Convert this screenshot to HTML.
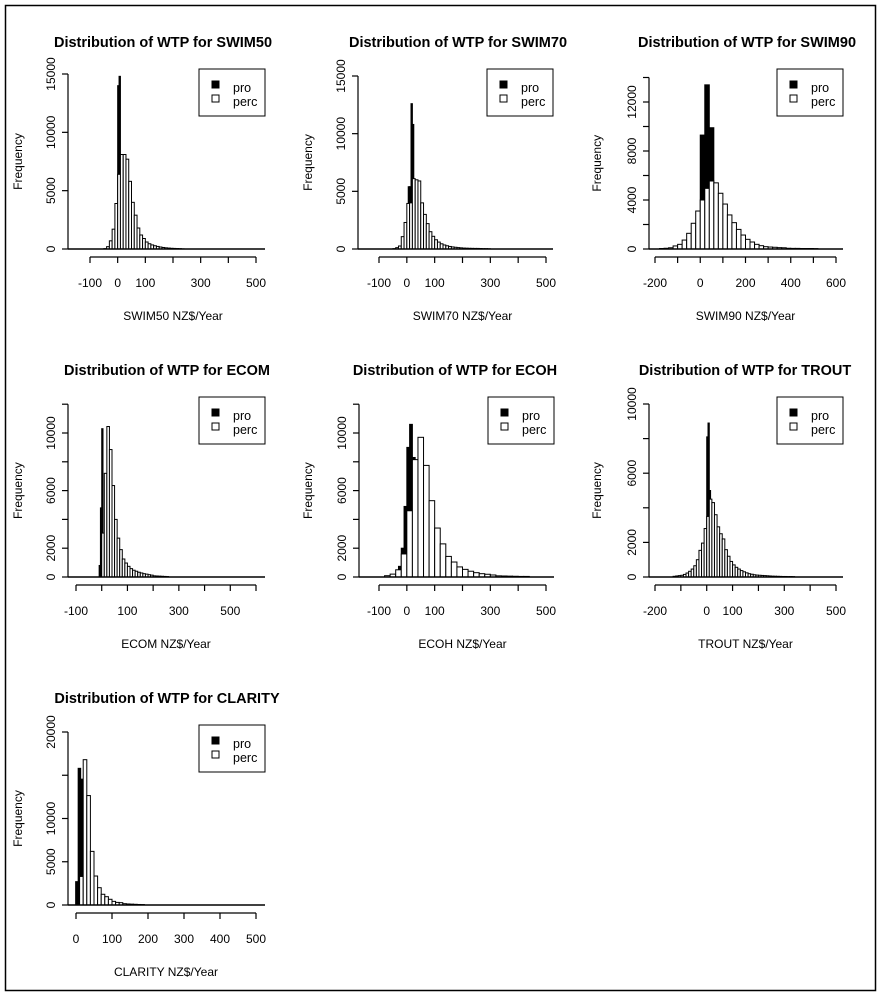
<!DOCTYPE html>
<html><head><meta charset="utf-8"><style>
body{margin:0;background:#fff}
svg{display:block;font-family:"Liberation Sans",Arial,sans-serif}
</style></head><body>
<svg id="chart" width="882" height="1000" viewBox="0 0 882 1000">
<rect x="5.5" y="5.5" width="870" height="985" fill="#fff" stroke="#000" stroke-width="1.5"/>
</svg>
<script>
// ---- data: bin start, bin width, counts ----
const swim50PercStart = -50, swim50PercWidth = 10;
const swim50PercCounts = [30,200,700,1700,3900,6400,8100,8100,7700,5800,4000,2900,1800,1200,900,600,450,350,280,220,170,130,100,80,60,50,40,30,10];
const swim50ProStart = 0, swim50ProWidth = 5;
const swim50ProCounts = [14000,14800];

const swim70PercStart = -50, swim70PercWidth = 10;
const swim70PercCounts = [30,115,260,1070,2300,3950,4000,6100,6000,5900,4000,3000,2200,1500,1100,800,600,450,350,280,220,180,150,120,100,80,70,60,55,50,50,40,30,30,20];
const swim70ProStart = 5, swim70ProWidth = 5;
const swim70ProCounts = [5400,5400,12600,10800];

const swim90PercStart = -180, swim90PercWidth = 20;
const swim90PercCounts = [40,60,100,250,380,730,1280,2100,3100,4000,4950,5550,5400,4550,3670,2780,2150,1600,1140,790,570,380,270,190,160,140,110,100,60,50,50,40,40,40,30];
const swim90ProStart = 0, swim90ProWidth = 20;
const swim90ProCounts = [9300,13400,9900];

const ecomPercStart = 0, ecomPercWidth = 10;
const ecomPercCounts = [3050,7200,10450,8850,6350,4000,2700,1900,1250,970,740,580,470,400,330,280,230,200,160,130,80,70,60,50,40,30];
const ecomProStart = -10, ecomProWidth = 5;
const ecomProCounts = [800,4800,10300,3000];

const ecohPercStart = -80, ecohPercWidth = 20;
const ecohPercCounts = [90,200,500,1600,4600,8150,9700,7750,5300,3400,2300,1430,1040,700,530,400,300,230,190,140,80,70,60,50,40,40];
const ecohProStart = -30, ecohProWidth = 10;
const ecohProCounts = [740,2000,4900,9000,10600,8300];

const troutPercStart = -130, troutPercWidth = 10;
const troutPercCounts = [40,60,80,100,150,230,330,460,650,1000,1540,1960,2800,3500,4500,4300,3600,2900,2500,2200,1580,1200,900,700,560,460,370,300,240,190,160,130,110,100,90,80,70,60,50,45,40,35,30,30,25,25,20];
const troutProStart = 0, troutProWidth = 5;
const troutProCounts = [8100,8900,5000];

const clarityPercStart = 0, clarityPercWidth = 10;
const clarityPercCounts = [50,3300,16800,12650,6200,3350,2000,1240,960,660,420,300,270,150,120,100,80,60,50];
const clarityProStart = -1, clarityProWidth = 7;
const clarityProCounts = [2700,15800,14550];

// ---- axis ticks ----
const swim50XTicks = [-100,0,100,200,300,400,500];
const swim50XLabels = ["-100","0","100","","300","","500"];
const swim50YTicks = [0,5000,10000,15000];
const swim50YLabels = ["0","5000","10000","15000"];
const swim70XTicks = [-100,0,100,200,300,400,500];
const swim70XLabels = ["-100","0","100","","300","","500"];
const swim70YTicks = [0,5000,10000,15000];
const swim70YLabels = ["0","5000","10000","15000"];
const swim90XTicks = [-200,-100,0,100,200,300,400,500,600];
const swim90XLabels = ["-200","","0","","200","","400","","600"];
const swim90YTicks = [0,2000,4000,6000,8000,10000,12000,14000];
const swim90YLabels = ["0","","4000","","8000","","12000",""];
const ecomXTicks = [-100,0,100,200,300,400,500,600];
const ecomXLabels = ["-100","","100","","300","","500",""];
const ecomYTicks = [0,2000,4000,6000,8000,10000,12000];
const ecomYLabels = ["0","2000","","6000","","10000",""];
const ecohXTicks = [-100,0,100,200,300,400,500];
const ecohXLabels = ["-100","0","100","","300","","500"];
const ecohYTicks = [0,2000,4000,6000,8000,10000,12000];
const ecohYLabels = ["0","2000","","6000","","10000",""];
const troutXTicks = [-200,-100,0,100,200,300,400,500];
const troutXLabels = ["-200","","0","100","","300","","500"];
const troutYTicks = [0,2000,4000,6000,8000,10000];
const troutYLabels = ["0","2000","","6000","","10000"];
const clarityXTicks = [0,100,200,300,400,500];
const clarityXLabels = ["0","100","200","300","400","500"];
const clarityYTicks = [0,5000,10000,15000,20000];
const clarityYLabels = ["0","5000","10000","","20000"];

// ---- layout (pixels) ----
const panels = [
 {id:"swim50",title:"Distribution of WTP for SWIM50",xlab:"SWIM50 NZ$/Year",ax:68,right:265,base:249,ytPx:74,ytV:15000,x0px:90,x0v:-100,x1px:256,x1v:500,row:0,cx:163,fx:18,
  ps:swim50PercStart,pw:swim50PercWidth,pc:swim50PercCounts,qs:swim50ProStart,qw:swim50ProWidth,qc:swim50ProCounts,xt:swim50XTicks,xl:swim50XLabels,yt:swim50YTicks,yl:swim50YLabels},
 {id:"swim70",title:"Distribution of WTP for SWIM70",xlab:"SWIM70 NZ$/Year",ax:358,right:553,base:249,ytPx:76,ytV:15000,x0px:379,x0v:-100,x1px:546,x1v:500,row:0,cx:458,fx:308,
  ps:swim70PercStart,pw:swim70PercWidth,pc:swim70PercCounts,qs:swim70ProStart,qw:swim70ProWidth,qc:swim70ProCounts,xt:swim70XTicks,xl:swim70XLabels,yt:swim70YTicks,yl:swim70YLabels},
 {id:"swim90",title:"Distribution of WTP for SWIM90",xlab:"SWIM90 NZ$/Year",ax:649,right:843,base:249,ytPx:102,ytV:12000,x0px:655,x0v:-200,x1px:836,x1v:600,row:0,cx:747,fx:597,
  ps:swim90PercStart,pw:swim90PercWidth,pc:swim90PercCounts,qs:swim90ProStart,qw:swim90ProWidth,qc:swim90ProCounts,xt:swim90XTicks,xl:swim90XLabels,yt:swim90YTicks,yl:swim90YLabels},
 {id:"ecom",title:"Distribution of WTP for ECOM",xlab:"ECOM NZ$/Year",ax:68,right:265,base:577,ytPx:433,ytV:10000,x0px:76,x0v:-100,x1px:256,x1v:600,row:1,cx:167,fx:18,
  ps:ecomPercStart,pw:ecomPercWidth,pc:ecomPercCounts,qs:ecomProStart,qw:ecomProWidth,qc:ecomProCounts,xt:ecomXTicks,xl:ecomXLabels,yt:ecomYTicks,yl:ecomYLabels},
 {id:"ecoh",title:"Distribution of WTP for ECOH",xlab:"ECOH NZ$/Year",ax:359,right:554,base:577,ytPx:433,ytV:10000,x0px:379,x0v:-100,x1px:546,x1v:500,row:1,cx:455,fx:308,
  ps:ecohPercStart,pw:ecohPercWidth,pc:ecohPercCounts,qs:ecohProStart,qw:ecohProWidth,qc:ecohProCounts,xt:ecohXTicks,xl:ecohXLabels,yt:ecohYTicks,yl:ecohYLabels},
 {id:"trout",title:"Distribution of WTP for TROUT",xlab:"TROUT NZ$/Year",ax:649,right:843,base:577,ytPx:404,ytV:10000,x0px:655,x0v:-200,x1px:836,x1v:500,row:1,cx:745,fx:597,
  ps:troutPercStart,pw:troutPercWidth,pc:troutPercCounts,qs:troutProStart,qw:troutProWidth,qc:troutProCounts,xt:troutXTicks,xl:troutXLabels,yt:troutYTicks,yl:troutYLabels},
 {id:"clarity",title:"Distribution of WTP for CLARITY",xlab:"CLARITY NZ$/Year",ax:68,right:265,base:905,ytPx:732,ytV:20000,x0px:76,x0v:0,x1px:256,x1v:500,row:2,cx:167,fx:18,
  ps:clarityPercStart,pw:clarityPercWidth,pc:clarityPercCounts,qs:clarityProStart,qw:clarityProWidth,qc:clarityProCounts,xt:clarityXTicks,xl:clarityXLabels,yt:clarityYTicks,yl:clarityYLabels}
];
const NS="http://www.w3.org/2000/svg";
const svg=document.getElementById("chart");
function mk(tag,attrs,parent){const e=document.createElementNS(NS,tag);for(const k in attrs)e.setAttribute(k,attrs[k]);parent.appendChild(e);return e;}
panels.forEach(p=>{
  const oy=[0,328,656][p.row];
  const g=mk("g",{},svg);
  
  
  const xs=v=>p.x0px+(v-p.x0v)*(p.x1px-p.x0px)/(p.x1v-p.x0v);
  const ys=v=>p.base-v*(p.base-p.ytPx)/p.ytV;
  // title
  const t=mk("text",{x:p.cx,y:oy+47,"text-anchor":"middle","font-size":"14.5","font-weight":"bold"},g);
  t.textContent=p.title;
  
  
  // pro bars
  p.qc.forEach((c,i)=>{
    const x0=xs(p.qs+i*p.qw),x1=xs(p.qs+(i+1)*p.qw);
    const r=mk("rect",{x:x0,y:ys(c),width:x1-x0,height:p.base-ys(c),fill:"#000",stroke:"#000","stroke-width":1},g);
    
    
  });
  // perc bars
  p.pc.forEach((c,i)=>{
    const x0=xs(p.ps+i*p.pw),x1=xs(p.ps+(i+1)*p.pw);
    const r=mk("rect",{x:x0,y:ys(c),width:x1-x0,height:p.base-ys(c),fill:"#fff",stroke:"#000","stroke-width":1},g);
    
    
  });
  // baseline
  const bl=mk("line",{x1:p.ax,x2:p.right,y1:p.base,y2:p.base,stroke:"#000","stroke-width":1.5},g);
  
  
  // y axis
  const yTop=ys(p.yt[p.yt.length-1]);
  const ya=mk("line",{x1:p.ax,x2:p.ax,y1:p.base,y2:yTop,stroke:"#000","stroke-width":1.2},g);
  
  
  p.yt.forEach((v,i)=>{
    mk("line",{x1:p.ax-6,x2:p.ax,y1:ys(v),y2:ys(v),stroke:"#000","stroke-width":1.2},g);
    if(p.yl[i]){
      const tl=mk("text",{x:0,y:0,"text-anchor":"middle","font-size":"12",transform:`translate(${p.ax-13},${ys(v)}) rotate(-90)`},g);
      tl.textContent=p.yl[i];
      
      
    }
  });
  // x axis
  const axy=p.base+8;
  const xa=mk("line",{x1:xs(p.xt[0]),x2:xs(p.xt[p.xt.length-1]),y1:axy,y2:axy,stroke:"#000","stroke-width":1.2},g);
  
  
  p.xt.forEach((v,i)=>{
    mk("line",{x1:xs(v),x2:xs(v),y1:axy,y2:axy+6,stroke:"#000","stroke-width":1.2},g);
    if(p.xl[i]){
      const tl=mk("text",{x:xs(v),y:axy+30,"text-anchor":"middle","font-size":"12"},g);
      tl.textContent=p.xl[i];
      
      
    }
  });
  const xl=mk("text",{x:(xs(p.xt[0])+xs(p.xt[p.xt.length-1]))/2,y:axy+63,"text-anchor":"middle","font-size":"12"},g);
  xl.textContent=p.xlab;
  
  
  const yl=mk("text",{x:0,y:0,"text-anchor":"middle","font-size":"12",transform:`translate(${p.fx+4},${(p.base+yTop)/2}) rotate(-90)`},g);
  yl.textContent="Frequency";
  
  
  // legend
  const lx=p.right-66, ly=oy+69;
  const lg=mk("g",{},g);
  
  
  mk("rect",{x:lx,y:ly,width:66,height:47,fill:"#fff",stroke:"#000","stroke-width":1},lg);
  mk("rect",{x:lx+13,y:ly+12,width:7,height:7,fill:"#000",stroke:"#000","stroke-width":1},lg);
  mk("rect",{x:lx+13,y:ly+26,width:7,height:7,fill:"#fff",stroke:"#000","stroke-width":1},lg);
  const t1=mk("text",{x:lx+34,y:ly+23,"font-size":"12.5"},lg);t1.textContent="pro";
  
  
  const t2=mk("text",{x:lx+34,y:ly+37,"font-size":"12.5"},lg);t2.textContent="perc";
  
  
});
</script>
</body></html>
